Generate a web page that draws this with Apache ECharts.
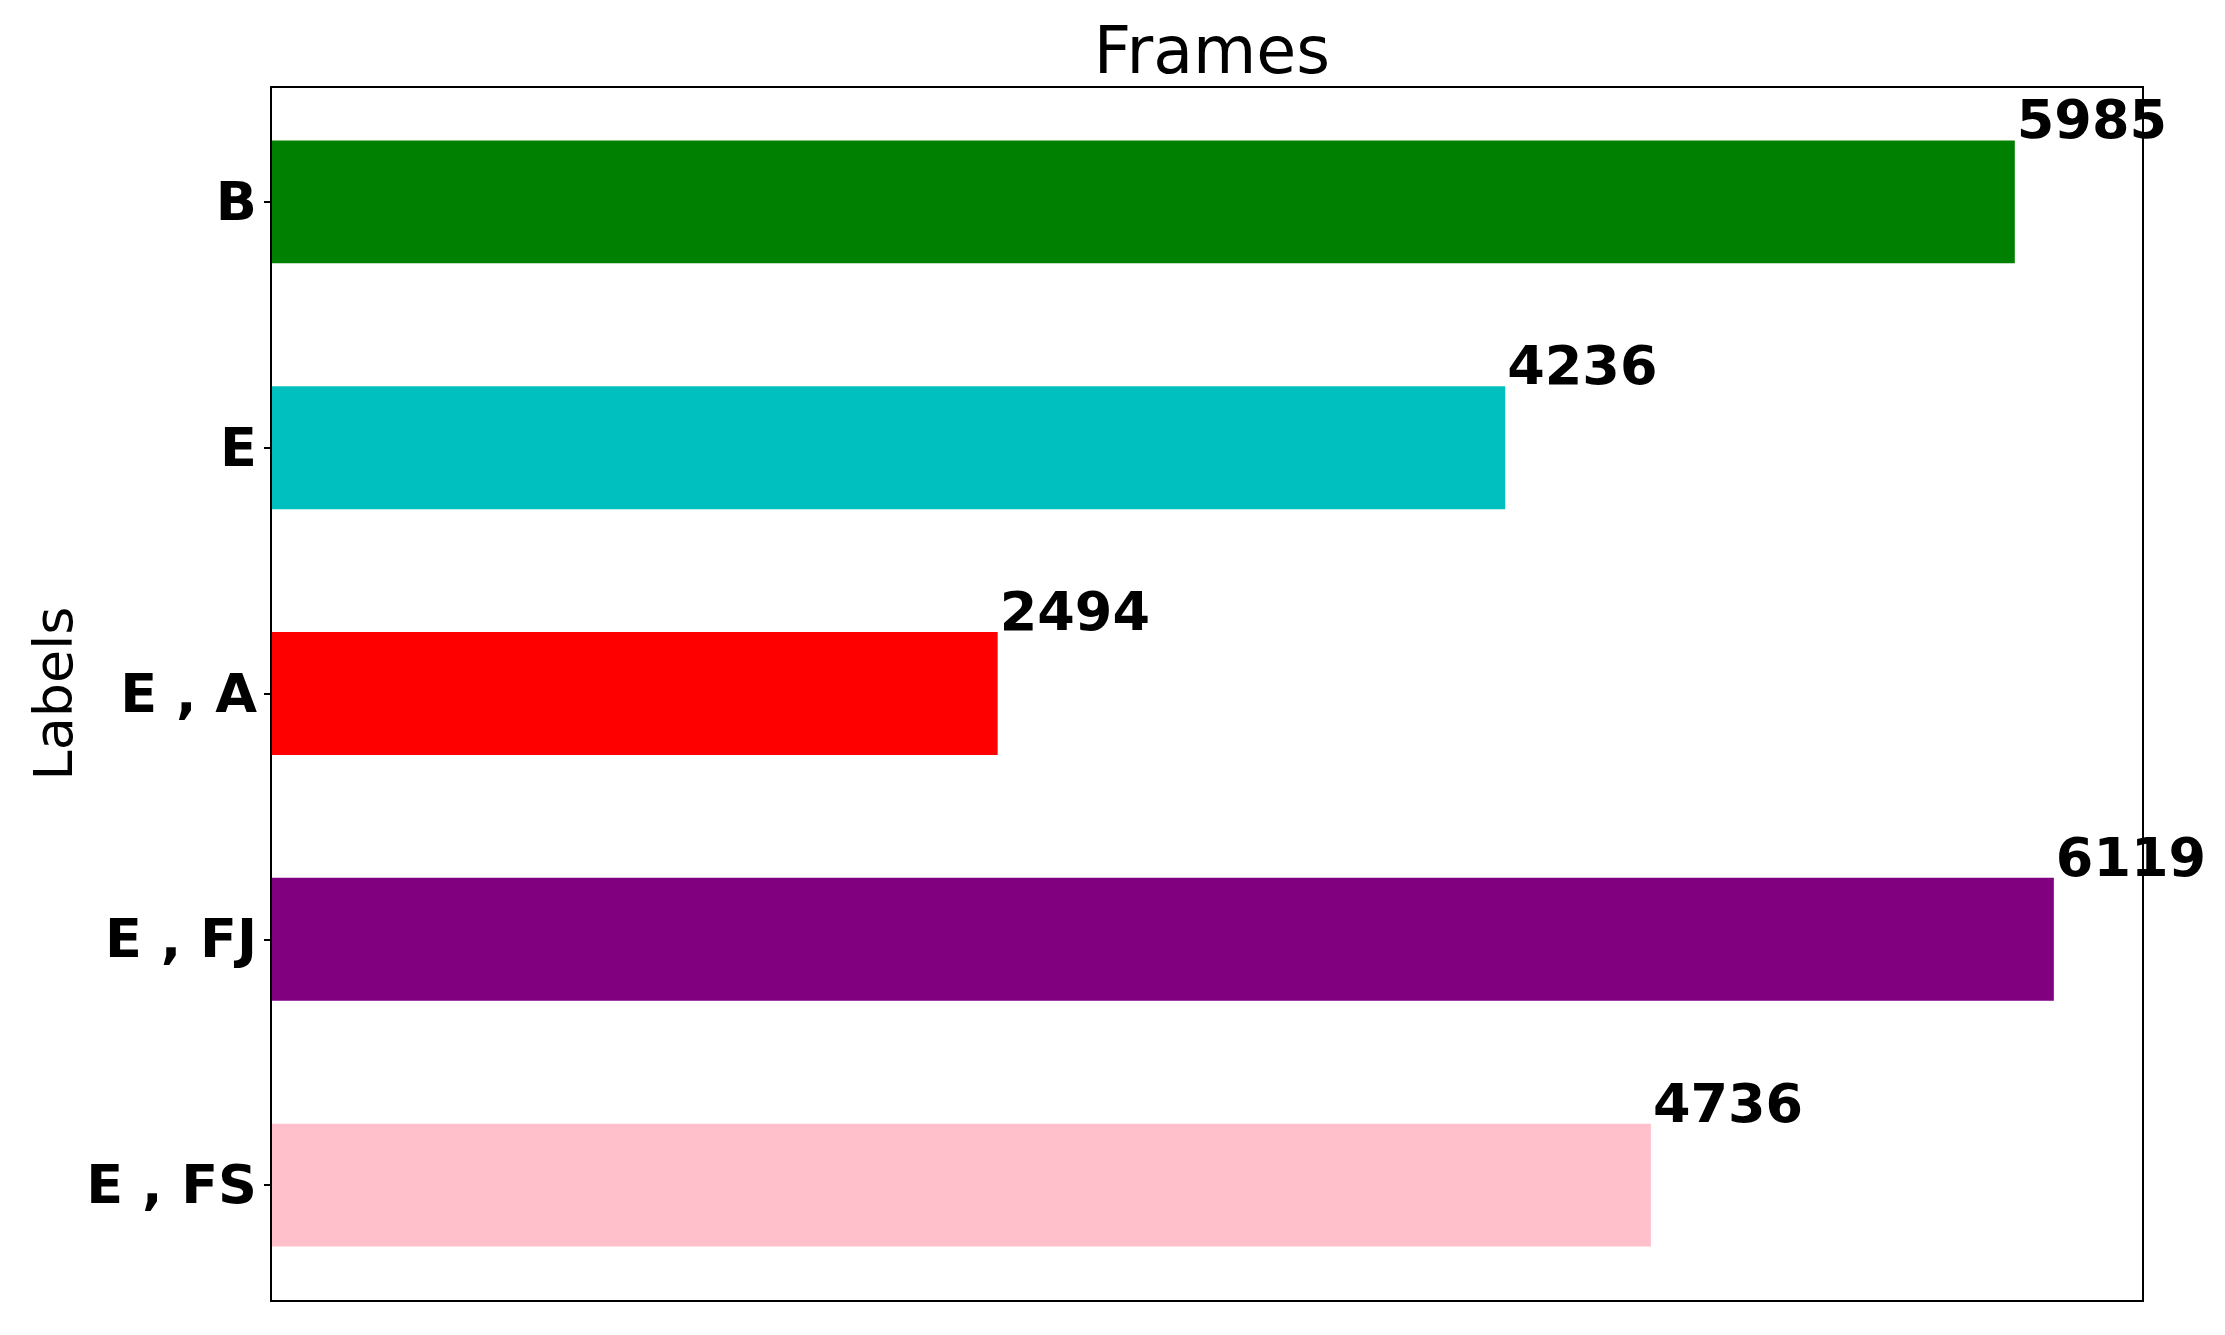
<!DOCTYPE html>
<html>
<head>
<meta charset="utf-8">
<title>Frames</title>
<script src="https://cdn.jsdelivr.net/npm/echarts@6/dist/echarts.min.js"></script>
<style>
  html, body { margin: 0; padding: 0; background: #fff; }
  #chart { width: 2225px; height: 1335px; }
</style>
</head>
<body>
<div id="chart"></div>
<script>
// data
var labels = ['B', 'E', 'E , A', 'E , FJ', 'E , FS'];
var frames = [5985, 4236, 2494, 6119, 4736];
var barColors = ['#008000', '#00bfbf', '#ff0000', '#800080', '#ffc0cb'];

var myChart = echarts.init(document.getElementById('chart'), null, {renderer: 'canvas'});

var option = {
    backgroundColor: '#fff',
    animation: false,
    textStyle: { fontFamily: 'DejaVu Sans' },
    title: {
        text: 'Frames',
        left: 1207,
        top: 19,
        textAlign: 'center',
        textStyle: { fontSize: 65, fontWeight: 'normal', color: '#000', fontFamily: 'DejaVu Sans' }
    },
    // bands a bit taller than the frame, like matplotlib's margins
    grid: {
        left: 271, right: 82, top: 79, bottom: 27,
        show: false
    },
    // axes frame
    graphic: [{
        type: 'rect',
        shape: { x: 271, y: 87, width: 1872, height: 1214 },
        style: { fill: 'none', stroke: '#000', lineWidth: 2 },
        z: 10
    }],
    xAxis: {
        type: 'value',
        min: 0,
        max: 6425,
        axisLine: { show: false },
        axisTick: { show: false },
        axisLabel: { show: false },
        splitLine: { show: false }
    },
    yAxis: {
        type: 'category',
        data: labels,
        inverse: true,
        name: 'Labels',
        nameLocation: 'middle',
        nameRotate: 90,
        nameGap: 186,
        nameMoveOverlap: false,
        nameTextStyle: { fontSize: 54, color: '#000', fontFamily: 'DejaVu Sans' },
        axisLine: { show: false },
        axisTick: { show: true, alignWithLabel: true, length: 7, lineStyle: { color: '#000', width: 2 } },
        axisLabel: {
            margin: 14, verticalAlign: 'top', lineHeight: 8,
            fontSize: 54, fontWeight: 'bold', color: '#000', fontFamily: 'DejaVu Sans'
        },
        splitLine: { show: false }
    },
    series: [{
        type: 'bar',
        barWidth: '50%',
        data: frames.map(function (v, i) {
            return { value: v, itemStyle: { color: barColors[i] } };
        }),
        label: {
            show: true,
            position: ['100%', 0],
            align: 'left',
            verticalAlign: 'bottom',
            offset: [2, 11],
            fontSize: 54,
            fontWeight: 'bold',
            color: '#000',
            fontFamily: 'DejaVu Sans'
        }
    }]
};
myChart.setOption(option);
</script>
</body>
</html>
